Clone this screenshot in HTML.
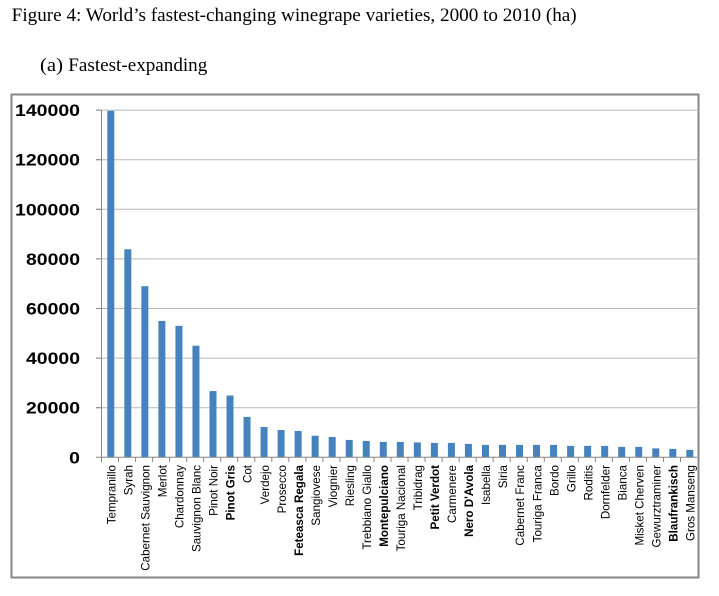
<!DOCTYPE html>
<html>
<head>
<meta charset="utf-8">
<style>
  html,body{margin:0;padding:0;background:#fff;}
  svg{display:block;}
  .lab{font-family:"Liberation Sans",sans-serif;font-size:11.6px;fill:#000;}
  .b{font-weight:bold;}
  .yl{font-family:"Liberation Sans",sans-serif;font-size:16.5px;font-weight:bold;fill:#000;}
</style>
</head>
<body>
<svg width="719" height="596" viewBox="0 0 719 596" xmlns="http://www.w3.org/2000/svg">
  <text x="11.7" y="21" font-family="Liberation Serif, serif" font-size="19" textLength="565" lengthAdjust="spacingAndGlyphs">Figure 4: World’s fastest-changing winegrape varieties, 2000 to 2010 (ha)</text>
  <text x="40" y="71" font-family="Liberation Serif, serif" font-size="19" textLength="23" lengthAdjust="spacingAndGlyphs">(a)</text>
  <text x="68.3" y="71" font-family="Liberation Serif, serif" font-size="19" textLength="139" lengthAdjust="spacingAndGlyphs">Fastest-expanding</text>

  <!-- frame -->
  <rect x="11.5" y="94.5" width="687" height="483" fill="none" stroke="#878787" stroke-width="2"/>

  <!-- gridlines -->
  <g stroke="#b8b8b8" stroke-width="1">
    <line x1="96" y1="407.7" x2="697" y2="407.7"/>
    <line x1="96" y1="358.1" x2="697" y2="358.1"/>
    <line x1="96" y1="308.5" x2="697" y2="308.5"/>
    <line x1="96" y1="258.9" x2="697" y2="258.9"/>
    <line x1="96" y1="209.3" x2="697" y2="209.3"/>
    <line x1="96" y1="159.7" x2="697" y2="159.7"/>
    <line x1="96" y1="110.1" x2="697" y2="110.1"/>
  </g>

  <!-- y labels -->
  <g class="yl" text-anchor="end">
    <text x="80" y="463.3" textLength="10.8" lengthAdjust="spacingAndGlyphs">0</text>
    <text x="80" y="413.7" textLength="54" lengthAdjust="spacingAndGlyphs">20000</text>
    <text x="80" y="364.1" textLength="54" lengthAdjust="spacingAndGlyphs">40000</text>
    <text x="80" y="314.5" textLength="54" lengthAdjust="spacingAndGlyphs">60000</text>
    <text x="80" y="264.9" textLength="54" lengthAdjust="spacingAndGlyphs">80000</text>
    <text x="80" y="215.3" textLength="65" lengthAdjust="spacingAndGlyphs">100000</text>
    <text x="80" y="165.7" textLength="65" lengthAdjust="spacingAndGlyphs">120000</text>
    <text x="80" y="116.1" textLength="65" lengthAdjust="spacingAndGlyphs">140000</text>
  </g>

  <!-- bars -->
  <g fill="#4682be">
    <rect x="107.3" y="110.84" width="7" height="346.46"/>
    <rect x="124.33" y="249.23" width="7" height="208.07"/>
    <rect x="141.36" y="286.18" width="7" height="171.12"/>
    <rect x="158.39" y="320.9" width="7" height="136.4"/>
    <rect x="175.42" y="325.86" width="7" height="131.44"/>
    <rect x="192.45" y="345.7" width="7" height="111.6"/>
    <rect x="209.48" y="391.08" width="7" height="66.22"/>
    <rect x="226.51" y="395.55" width="7" height="61.75"/>
    <rect x="243.54" y="416.88" width="7" height="40.42"/>
    <rect x="260.57" y="427.04" width="7" height="30.26"/>
    <rect x="277.6" y="430.02" width="7" height="27.28"/>
    <rect x="294.63" y="431.01" width="7" height="26.29"/>
    <rect x="311.66" y="435.72" width="7" height="21.58"/>
    <rect x="328.69" y="436.96" width="7" height="20.34"/>
    <rect x="345.72" y="439.94" width="7" height="17.36"/>
    <rect x="362.75" y="440.93" width="7" height="16.37"/>
    <rect x="379.78" y="441.92" width="7" height="15.38"/>
    <rect x="396.81" y="441.92" width="7" height="15.38"/>
    <rect x="413.84" y="442.42" width="7" height="14.88"/>
    <rect x="430.87" y="442.92" width="7" height="14.38"/>
    <rect x="447.9" y="442.92" width="7" height="14.38"/>
    <rect x="464.93" y="443.91" width="7" height="13.39"/>
    <rect x="481.96" y="444.9" width="7" height="12.4"/>
    <rect x="498.99" y="444.9" width="7" height="12.4"/>
    <rect x="516.02" y="444.9" width="7" height="12.4"/>
    <rect x="533.05" y="444.9" width="7" height="12.4"/>
    <rect x="550.08" y="444.9" width="7" height="12.4"/>
    <rect x="567.11" y="445.89" width="7" height="11.41"/>
    <rect x="584.14" y="445.89" width="7" height="11.41"/>
    <rect x="601.17" y="445.89" width="7" height="11.41"/>
    <rect x="618.2" y="446.88" width="7" height="10.42"/>
    <rect x="635.23" y="446.88" width="7" height="10.42"/>
    <rect x="652.26" y="448.37" width="7" height="8.93"/>
    <rect x="669.29" y="448.87" width="7" height="8.43"/>
    <rect x="686.32" y="449.86" width="7" height="7.44"/>
  </g>

  <!-- axes -->
  <g stroke="#868686" stroke-width="1">
    <line x1="101.5" y1="110" x2="101.5" y2="462"/>
    <line x1="96" y1="457.3" x2="697" y2="457.3"/>
    <line x1="96" y1="407.7" x2="101.5" y2="407.7"/>
    <line x1="96" y1="358.1" x2="101.5" y2="358.1"/>
    <line x1="96" y1="308.5" x2="101.5" y2="308.5"/>
    <line x1="96" y1="258.9" x2="101.5" y2="258.9"/>
    <line x1="96" y1="209.3" x2="101.5" y2="209.3"/>
    <line x1="96" y1="159.7" x2="101.5" y2="159.7"/>
    <line x1="96" y1="110.1" x2="101.5" y2="110.1"/>
    <line x1="118.53" y1="457.3" x2="118.53" y2="462"/>
    <line x1="135.56" y1="457.3" x2="135.56" y2="462"/>
    <line x1="152.59" y1="457.3" x2="152.59" y2="462"/>
    <line x1="169.62" y1="457.3" x2="169.62" y2="462"/>
    <line x1="186.65" y1="457.3" x2="186.65" y2="462"/>
    <line x1="203.68" y1="457.3" x2="203.68" y2="462"/>
    <line x1="220.71" y1="457.3" x2="220.71" y2="462"/>
    <line x1="237.74" y1="457.3" x2="237.74" y2="462"/>
    <line x1="254.77" y1="457.3" x2="254.77" y2="462"/>
    <line x1="271.8" y1="457.3" x2="271.8" y2="462"/>
    <line x1="288.83" y1="457.3" x2="288.83" y2="462"/>
    <line x1="305.86" y1="457.3" x2="305.86" y2="462"/>
    <line x1="322.89" y1="457.3" x2="322.89" y2="462"/>
    <line x1="339.92" y1="457.3" x2="339.92" y2="462"/>
    <line x1="356.95" y1="457.3" x2="356.95" y2="462"/>
    <line x1="373.98" y1="457.3" x2="373.98" y2="462"/>
    <line x1="391.01" y1="457.3" x2="391.01" y2="462"/>
    <line x1="408.04" y1="457.3" x2="408.04" y2="462"/>
    <line x1="425.07" y1="457.3" x2="425.07" y2="462"/>
    <line x1="442.1" y1="457.3" x2="442.1" y2="462"/>
    <line x1="459.13" y1="457.3" x2="459.13" y2="462"/>
    <line x1="476.16" y1="457.3" x2="476.16" y2="462"/>
    <line x1="493.19" y1="457.3" x2="493.19" y2="462"/>
    <line x1="510.22" y1="457.3" x2="510.22" y2="462"/>
    <line x1="527.25" y1="457.3" x2="527.25" y2="462"/>
    <line x1="544.28" y1="457.3" x2="544.28" y2="462"/>
    <line x1="561.31" y1="457.3" x2="561.31" y2="462"/>
    <line x1="578.34" y1="457.3" x2="578.34" y2="462"/>
    <line x1="595.37" y1="457.3" x2="595.37" y2="462"/>
    <line x1="612.4" y1="457.3" x2="612.4" y2="462"/>
    <line x1="629.43" y1="457.3" x2="629.43" y2="462"/>
    <line x1="646.46" y1="457.3" x2="646.46" y2="462"/>
    <line x1="663.49" y1="457.3" x2="663.49" y2="462"/>
    <line x1="680.52" y1="457.3" x2="680.52" y2="462"/>
  </g>

  <!-- x labels -->
  <g class="lab" text-anchor="end">
    <text transform="translate(115.5 465) rotate(-90)">Tempranillo</text>
    <text transform="translate(132.53 465) rotate(-90)">Syrah</text>
    <text transform="translate(149.56 465) rotate(-90)">Cabernet Sauvignon</text>
    <text transform="translate(166.59 465) rotate(-90)">Merlot</text>
    <text transform="translate(183.62 465) rotate(-90)">Chardonnay</text>
    <text transform="translate(200.65 465) rotate(-90)">Sauvignon Blanc</text>
    <text transform="translate(217.68 465) rotate(-90)">Pinot Noir</text>
    <text class="b" transform="translate(234.71 465) rotate(-90)">Pinot Gris</text>
    <text transform="translate(251.74 465) rotate(-90)">Cot</text>
    <text transform="translate(268.77 465) rotate(-90)">Verdejo</text>
    <text transform="translate(285.8 465) rotate(-90)">Prosecco</text>
    <text class="b" transform="translate(302.83 465) rotate(-90)">Feteasca Regala</text>
    <text transform="translate(319.86 465) rotate(-90)">Sangiovese</text>
    <text transform="translate(336.89 465) rotate(-90)">Viognier</text>
    <text transform="translate(353.92 465) rotate(-90)">Riesling</text>
    <text transform="translate(370.95 465) rotate(-90)">Trebbiano Giallo</text>
    <text class="b" transform="translate(387.98 465) rotate(-90)">Montepulciano</text>
    <text transform="translate(405.01 465) rotate(-90)">Touriga Nacional</text>
    <text transform="translate(422.04 465) rotate(-90)">Tribidrag</text>
    <text class="b" transform="translate(439.07 465) rotate(-90)">Petit Verdot</text>
    <text transform="translate(456.1 465) rotate(-90)">Carmenere</text>
    <text class="b" transform="translate(473.13 465) rotate(-90)">Nero D'Avola</text>
    <text transform="translate(490.16 465) rotate(-90)">Isabella</text>
    <text transform="translate(507.19 465) rotate(-90)">Siria</text>
    <text transform="translate(524.22 465) rotate(-90)">Cabernet Franc</text>
    <text transform="translate(541.25 465) rotate(-90)">Touriga Franca</text>
    <text transform="translate(558.28 465) rotate(-90)">Bordo</text>
    <text transform="translate(575.31 465) rotate(-90)">Grillo</text>
    <text transform="translate(592.34 465) rotate(-90)">Roditis</text>
    <text transform="translate(609.37 465) rotate(-90)">Dornfelder</text>
    <text transform="translate(626.4 465) rotate(-90)">Bianca</text>
    <text transform="translate(643.43 465) rotate(-90)">Misket Cherven</text>
    <text transform="translate(660.46 465) rotate(-90)">Gewurztraminer</text>
    <text class="b" transform="translate(677.49 465) rotate(-90)">Blaufrankisch</text>
    <text transform="translate(694.52 465) rotate(-90)">Gros Manseng</text>
  </g>
</svg>
</body>
</html>
